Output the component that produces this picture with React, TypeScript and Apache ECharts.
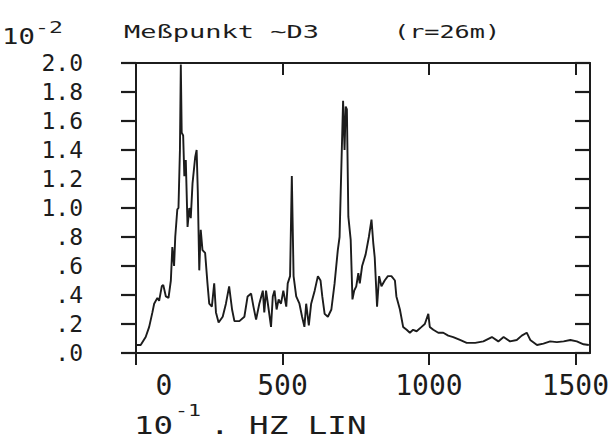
import React, { useEffect, useRef } from 'react';
import * as echarts from 'echarts';

// frequency in 10^-1 Hz
const freq = [
  0, 16, 33, 45, 56, 62, 73, 79, 88, 93, 102, 111, 119, 124, 130, 134, 141, 145, 150, 153,
  156, 161, 165, 170, 176, 182, 187, 193, 202, 207, 211, 216, 221, 227, 236, 244, 250, 259, 267, 273,
  282, 296, 307, 318, 328, 336, 353, 370, 381, 393, 401, 410, 421, 433, 438, 444, 453, 461, 467, 473,
  480, 487, 495, 503, 513, 518, 526, 532, 538, 547, 558, 567, 575, 581, 590, 598, 610, 621, 630, 636,
  644, 655, 667, 678, 689, 695, 699, 707, 712, 716, 720, 725, 733, 739, 745, 752, 759, 764, 772, 784,
  795, 804, 810, 815, 823, 830, 838, 849, 860, 872, 884, 889, 901, 912, 924, 935, 946, 958, 975, 986,
  998, 1003, 1015, 1032, 1049, 1066, 1083, 1106, 1129, 1158, 1186, 1215, 1237, 1255, 1277, 1300, 1317, 1334, 1346, 1369,
  1391, 1414, 1437, 1460, 1483, 1505, 1528, 1546,
];
// amplitude in 10^-2
const amp = [
  0.055, 0.055, 0.11, 0.18, 0.28, 0.34, 0.38, 0.36, 0.46, 0.47, 0.39, 0.38, 0.5, 0.73, 0.6, 0.8, 0.99, 1.0, 1.4, 1.99,
  1.52, 1.5, 1.22, 1.33, 0.87, 1.0, 0.93, 1.17, 1.35, 1.4, 1.11, 0.57, 0.85, 0.71, 0.69, 0.48, 0.34, 0.32, 0.48, 0.28,
  0.21, 0.25, 0.34, 0.46, 0.3, 0.22, 0.22, 0.25, 0.39, 0.41, 0.32, 0.23, 0.34, 0.43, 0.28, 0.43, 0.3, 0.18, 0.39, 0.43,
  0.3, 0.37, 0.34, 0.43, 0.32, 0.48, 0.53, 1.22, 0.53, 0.39, 0.34, 0.25, 0.18, 0.34, 0.19, 0.34, 0.43, 0.53, 0.5, 0.39,
  0.27, 0.25, 0.3, 0.48, 0.71, 0.8, 1.12, 1.74, 1.4, 1.7, 1.68, 0.94, 0.78, 0.37, 0.43, 0.46, 0.55, 0.48, 0.6, 0.68,
  0.8, 0.92, 0.76, 0.66, 0.32, 0.53, 0.46, 0.5, 0.53, 0.53, 0.5, 0.39, 0.3, 0.18, 0.16, 0.14, 0.16, 0.15, 0.18, 0.2,
  0.27, 0.18, 0.16, 0.14, 0.14, 0.12, 0.11, 0.09, 0.07, 0.07, 0.08, 0.11, 0.08, 0.11, 0.08, 0.09, 0.12, 0.14, 0.09, 0.055,
  0.065, 0.08, 0.075, 0.08, 0.09, 0.08, 0.06, 0.055,
];

const xTicks = [0, 500, 1000, 1500];
const xTopTicks = [500, 1000, 1500];
const yTickLabels = ['.0', '.2', '.4', '.6', '.8', '1.0', '1.2', '1.4', '1.6', '1.8', '2.0'];

const INK = '#1c1c1c';
const FONT = '"DejaVu Sans Mono", monospace';

export default function App() {
  const ref = useRef<HTMLDivElement>(null);
  useEffect(() => {
    if (!ref.current) return;
    const chart = echarts.init(ref.current, null, { renderer: 'svg' });
    const data = freq.map((f, i) => [f, amp[i]]);
    const txt = (text: string, x: number, y: number, size: number, sx: number) => ({
      type: 'text',
      x,
      y,
      scaleX: sx,
      style: { text, x: 0, y: 0, fill: INK, font: `${size}px ${FONT}`, verticalAlign: 'middle', align: 'left' },
    });
    chart.setOption({
      animation: false,
      backgroundColor: '#ffffff',
      grid: { left: 136, right: 24, top: 63, bottom: 86, containLabel: false },
      xAxis: [
        {
          type: 'value',
          position: 'bottom',
          min: 0,
          max: 1550,
          interval: 500,
          axisLine: { show: true, onZero: false, lineStyle: { color: INK, width: 2 } },
          axisTick: { show: true, inside: false, length: 12, customValues: xTicks, lineStyle: { color: INK, width: 2 } },
          axisLabel: {
            show: true,
            customValues: xTicks,
            margin: 18,
            color: INK,
            fontFamily: FONT,
            fontSize: 28,
            formatter: (v: number) => (v === 0 ? '{z|0}' : String(v)),
            rich: { z: { fontFamily: FONT, fontSize: 28, color: INK, padding: [0, 0, 0, 56] } },
          },
          splitLine: { show: false },
        },
        {
          type: 'value',
          position: 'top',
          min: 0,
          max: 1550,
          interval: 500,
          axisLine: { show: true, onZero: false, lineStyle: { color: INK, width: 2 } },
          axisTick: { show: true, inside: true, length: 12, customValues: xTopTicks, lineStyle: { color: INK, width: 2 } },
          axisLabel: { show: false },
          splitLine: { show: false },
        },
      ],
      yAxis: [
        {
          type: 'value',
          position: 'left',
          min: 0,
          max: 2,
          interval: 0.2,
          axisLine: { show: true, onZero: false, lineStyle: { color: INK, width: 2 } },
          axisTick: { show: true, inside: false, length: 15, lineStyle: { color: INK, width: 2.2 } },
          axisLabel: {
            show: true,
            margin: 53,
            color: INK,
            fontFamily: FONT,
            fontSize: 23,
            padding: [10, 0, 0, 0],
            formatter: (v: number) => yTickLabels[Math.round(v / 0.2)] ?? '',
          },
          splitLine: { show: false },
        },
        {
          type: 'value',
          position: 'right',
          min: 0,
          max: 2,
          interval: 0.2,
          axisLine: { show: true, onZero: false, lineStyle: { color: INK, width: 2 } },
          axisTick: { show: true, inside: true, length: 15, lineStyle: { color: INK, width: 2.2 } },
          axisLabel: { show: false },
          splitLine: { show: false },
        },
      ],
      series: [
        {
          type: 'line',
          xAxisIndex: 0,
          yAxisIndex: 0,
          data,
          showSymbol: false,
          symbol: 'none',
          lineStyle: { color: INK, width: 1.9 },
          clip: true,
        },
      ],
      graphic: [
        txt('10', 2, 37, 21, 1.3),
        txt('-2', 35, 27.5, 16, 1.45),
        txt('Meßpunkt ~D3', 124, 31.5, 18, 1.5),
        txt('(r=26m)', 394, 31.5, 18, 1.4),
        txt('10', 134, 425.5, 25, 1.3),
        txt('-1', 175, 410.5, 16, 1.35),
        txt('. HZ LIN', 210, 425.5, 25, 1.3),
      ],
    });
    return () => chart.dispose();
  }, []);
  return (
    <div
      ref={ref}
      style={{ position: 'absolute', left: 0, top: 0, width: 614, height: 439, background: '#fff' }}
    />
  );
}
